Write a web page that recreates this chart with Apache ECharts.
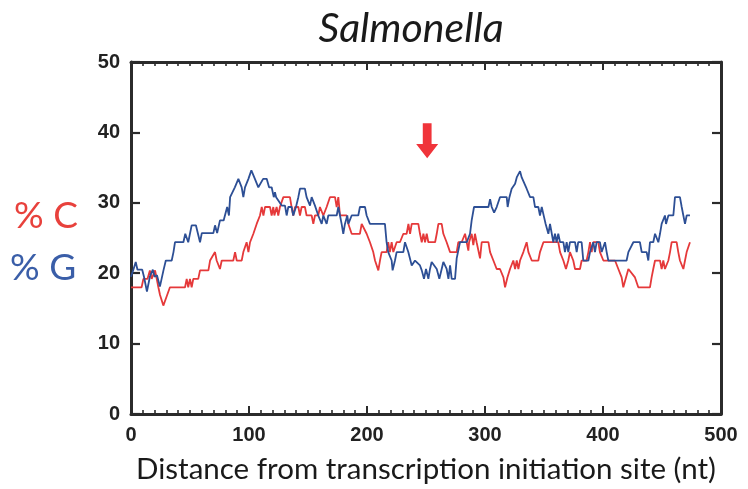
<!DOCTYPE html>
<html>
<head>
<meta charset="utf-8">
<script src="https://cdn.jsdelivr.net/npm/echarts@6/dist/echarts.min.js"></script>
<style>
html,body{margin:0;padding:0;background:#fff;}
#chart{width:748px;height:489px;}
</style>
</head>
<body>
<div id="chart"></div>
<script>
// Tick labels
const xTicks = [0, 100, 200, 300, 400, 500];
const yTicks = [0, 10, 20, 30, 40, 50];

// % G (blue)
const gX = [0,2,4,5.5,9.5,11,13.5,16,18.5,20,22,24.5,27.5,29.5,34.5,36,37.3,44.4,46,48.5,51.4,55,58.5,60,69.8,71.2,73,75.4,78.5,81.5,83,84,88,91,93.8,95.2,96.6,99.5,102,105,107.9,112,115,117,119.2,121,122,123,127.7,130.5,131.9,133.3,136.1,137.5,139.8,141.8,143.2,147.4,148.8,151.7,153.1,155.9,158.7,161.6,163,165.8,167.2,174.3,175.7,177.1,178.5,179.9,181.3,183.3,184.2,187,192.6,194,198.3,199.7,202.5,215.2,216.6,218,220.9,221.7,223.7,225.1,230.8,232.2,235,237.9,239.3,240.7,244.9,246.4,248.3,250,252,253.4,254.8,259.1,261.3,263.3,264.7,267.5,269,270.4,271.8,274.6,276,278.8,284.5,287.3,288.7,290.7,302.9,304.3,305.7,307.7,309.9,312.7,318.4,319.2,320.7,322.6,325.5,326.9,329.7,331.1,335.3,338.2,341,342.4,345.2,346.6,348.1,350,351.4,353.7,355.1,357.9,359.3,360.7,362.1,363.6,366.4,367.8,369.2,370.6,372,376.3,377.7,379,381.9,383.3,387.6,389,391.8,393.2,394.6,397.4,398.9,401.7,403.1,404.5,420,421.5,425.7,431.3,432.8,437,438.4,439.8,442.6,444.1,445.5,446.9,448.3,449.7,452.5,453.4,455.4,459.6,461,465.2,466.7,468.1,469.5,470.9,473.7];
const gY = [19.5,20.5,21.6,20.5,20.5,19.5,17.4,19.5,20.5,19.5,19.7,18.1,20.4,21.8,21.8,23.0,24.4,24.4,25.6,24.4,26.8,26.8,24.4,25.7,25.7,26.8,25.7,27.5,27.5,29.4,28.2,30.8,32.2,33.4,32.2,30.8,32.2,33.4,34.6,33.4,32.2,33.4,33.4,32.2,32.2,30.8,31.5,30.8,29.6,29.6,28.2,29.4,29.4,28.2,29.4,30.8,32.0,32.0,30.8,29.6,30.8,29.6,28.2,27.0,28.2,27.0,28.2,28.2,29.4,28.2,27.0,25.6,27.0,28.2,27.0,28.2,28.2,29.4,29.4,28.2,27.0,27.0,24.4,23.0,21.8,20.4,21.8,23.0,23.0,24.4,23.0,21.1,21.1,21.8,21.1,20.4,19.2,20.6,19.2,20.6,21.6,20.6,19.2,20.6,21.6,20.6,19.2,21.1,19.2,19.2,22.1,24.4,24.4,25.6,27.5,29.4,29.4,30.5,29.4,28.6,29.4,30.8,30.8,29.4,30.8,32.0,32.7,33.6,34.5,33.6,32.0,30.8,30.8,29.4,29.4,28.2,29.4,28.0,27.0,25.6,27.0,24.4,25.6,24.4,25.6,24.4,24.4,23.0,24.4,23.0,24.4,24.4,23.0,24.4,24.4,21.8,21.8,23.0,24.4,23.0,24.4,24.4,23.0,24.4,23.0,21.8,21.8,23.0,24.4,24.4,23.0,23.0,21.8,24.4,24.4,25.6,25.6,24.4,25.6,27.0,28.2,27.0,28.2,28.2,30.8,30.8,29.4,28.2,27.0,28.2,28.2];

// % C (red)
const cX = [0,9,10.5,14,16,17.5,20.4,21.8,23.2,24.6,27.4,30.2,33,45.8,47.2,48.5,50,51.4,52.8,57,58.5,65.6,67,71.2,72.6,75.4,76.9,86.7,88.2,89.6,93.8,95.2,98,99.5,100.9,103.7,106.5,109.3,110.8,112.2,113.6,117.8,119.2,120.6,121.5,123.4,124.8,126.2,129.1,134.7,136.1,137.5,139,141.8,143.2,144.6,147.4,148.8,153.1,154.5,155.9,158.7,160.1,163,165.8,168.6,172.9,174.3,175.7,177.1,182.7,184.2,187,194,195.5,196.9,199.7,202.5,205.3,206.8,209.6,211,212.4,216.6,218,219.4,220.9,222.3,225.1,227.9,230.8,233.6,235.1,236.5,237.9,243.5,244.9,246.4,247.8,249.2,250.6,252,257.7,259.1,260.5,263.3,264.7,267.5,270.4,276,277.4,280.2,283.1,284.5,285.9,286.5,288.7,290.1,291.5,292.9,295.8,297.2,302.9,304.3,307.1,309.9,312.7,315.6,317,319,321.2,324,325.5,326.9,328.3,329.7,332.5,335.3,336.8,339.6,345.2,346.6,349.5,352.3,362.1,363.6,366.4,368.6,370.6,372,374.8,376.3,380.5,381.9,386.1,387.6,389,390.4,391.8,396,397.4,400.3,410.2,413,415.8,417.2,419.5,421.5,422.9,427.1,429.9,439.8,441.2,442.6,444.1,448.3,449.7,451.1,452.5,455.4,456.8,458.2,462.4,463.8,465.2,466.7,468.1,469.5,470.9,473.7];
const cY = [18.0,18.0,19.2,19.2,20.4,19.2,20.4,19.2,18.0,16.9,15.4,16.7,18.0,18.0,19.2,18.0,19.2,18.0,19.2,19.2,20.4,20.4,21.8,23.0,21.8,20.6,21.8,21.8,23.0,21.8,21.8,23.0,24.4,23.0,24.4,25.6,27.0,28.2,29.4,28.2,29.4,29.4,28.2,29.4,28.2,29.4,28.2,29.4,30.8,30.8,29.4,28.2,29.4,29.4,28.2,29.4,29.4,28.2,28.2,27.0,28.2,28.2,29.4,28.2,29.4,30.8,30.8,29.4,30.8,28.2,28.2,27.0,25.6,25.6,27.0,27.0,25.6,24.4,23.0,21.8,20.4,21.8,23.0,23.0,24.4,23.0,24.4,23.0,24.4,24.4,25.6,25.6,27.0,25.6,27.0,27.0,25.6,24.4,25.6,24.4,25.6,24.4,24.4,25.6,27.0,27.0,25.6,24.4,23.0,23.0,24.4,24.4,25.6,24.4,23.2,24.4,25.6,24.0,25.6,24.4,22.1,24.4,24.4,23.0,21.8,20.6,20.6,19.4,18.0,19.4,20.6,21.8,20.6,21.8,20.6,21.8,23.0,24.4,23.0,21.8,21.8,23.0,24.4,24.4,24.4,23.0,21.8,20.6,21.8,23.0,21.8,20.6,20.6,21.8,21.8,23.0,24.4,23.0,24.4,24.4,23.0,21.8,21.8,20.6,19.4,18.0,19.4,20.6,20.6,19.4,18.0,18.0,19.4,20.6,21.8,21.8,20.6,21.8,20.6,21.8,23.0,24.4,24.4,23.0,21.8,21.8,20.6,21.8,23.0,24.4];

// Arrow annotation position (data coordinates)
const arrowAt = [251, 38.8];

const gData = gX.map((x, i) => [x, gY[i]]);
const cData = cX.map((x, i) => [x, cY[i]]);

const axisColor = '#2b2b2b';
const tickFont = {fontFamily: 'Liberation Sans, Arial, sans-serif', fontWeight: 'bold', fontSize: 20, color: '#222'};

function xAx(pos, showLabel) {
  return {
    type: 'value', position: pos, min: xTicks[0], max: xTicks[xTicks.length - 1], interval: 100,
    axisLine: {show: true, onZero: false, lineStyle: {color: axisColor, width: 3}},
    axisTick: {show: true, inside: true, length: 8, lineStyle: {color: axisColor, width: 2}},
    minorTick: {show: true, splitNumber: 10, length: 4, lineStyle: {color: axisColor, width: 1.6}},
    splitLine: {show: false},
    axisLabel: Object.assign({show: showLabel, margin: 11}, tickFont)
  };
}
function yAx(pos, showLabel) {
  return {
    type: 'value', position: pos, min: yTicks[0], max: yTicks[yTicks.length - 1], interval: 10,
    axisLine: {show: true, onZero: false, lineStyle: {color: axisColor, width: 3}},
    axisTick: {show: true, inside: true, length: 9, lineStyle: {color: axisColor, width: 2.2}},
    splitLine: {show: false},
    axisLabel: Object.assign({show: showLabel, margin: 11}, tickFont)
  };
}

const chart = echarts.init(document.getElementById('chart'), null, {renderer: 'canvas'});
chart.setOption({
  animation: false,
  backgroundColor: '#ffffff',
  title: {
    text: 'Salmonella', left: 406, top: 3, textAlign: 'center',
    textStyle: {fontFamily: 'Lato, sans-serif', fontStyle: 'italic', fontWeight: 'normal', fontSize: 41, color: '#1a1a1a'}
  },
  grid: {left: 131, right: 27, top: 62, bottom: 73, containLabel: false},
  xAxis: [
    Object.assign(xAx('bottom', true), {
      name: 'Distance from transcription initiation site (nt)', nameLocation: 'middle', nameGap: 40,
      nameTextStyle: {fontFamily: 'Lato, sans-serif', fontSize: 29.5, color: '#1a1a1a'}
    }),
    xAx('top', false)
  ],
  yAxis: [yAx('left', true), yAx('right', false)],
  graphic: [
    {type: 'text', left: 14, top: 198, style: {text: '% C', fill: '#e8413c', font: '37px Lato, sans-serif'}},
    {type: 'text', left: 10, top: 250, style: {text: '% G', fill: '#3a5ea8', font: '37px Lato, sans-serif'}}
  ],
  series: [
    {
      name: '% G', type: 'line', data: gData, showSymbol: false, symbol: 'none',
      lineStyle: {color: '#2d4f95', width: 1.8}, itemStyle: {color: '#2d4f95'}, z: 3
    },
    {
      name: '% C', type: 'line', data: cData, showSymbol: false, symbol: 'none',
      lineStyle: {color: '#e5393a', width: 1.8}, itemStyle: {color: '#e5393a'}, z: 2,
      markPoint: {
        symbol: 'path://M3,0 L7,0 L7,10 L10,10 L5,17 L0,10 L3,10 Z',
        symbolSize: [22, 35], silent: true, label: {show: false},
        itemStyle: {color: '#f0343a'},
        data: [{coord: arrowAt}]
      }
    }
  ]
});
</script>
</body>
</html>
